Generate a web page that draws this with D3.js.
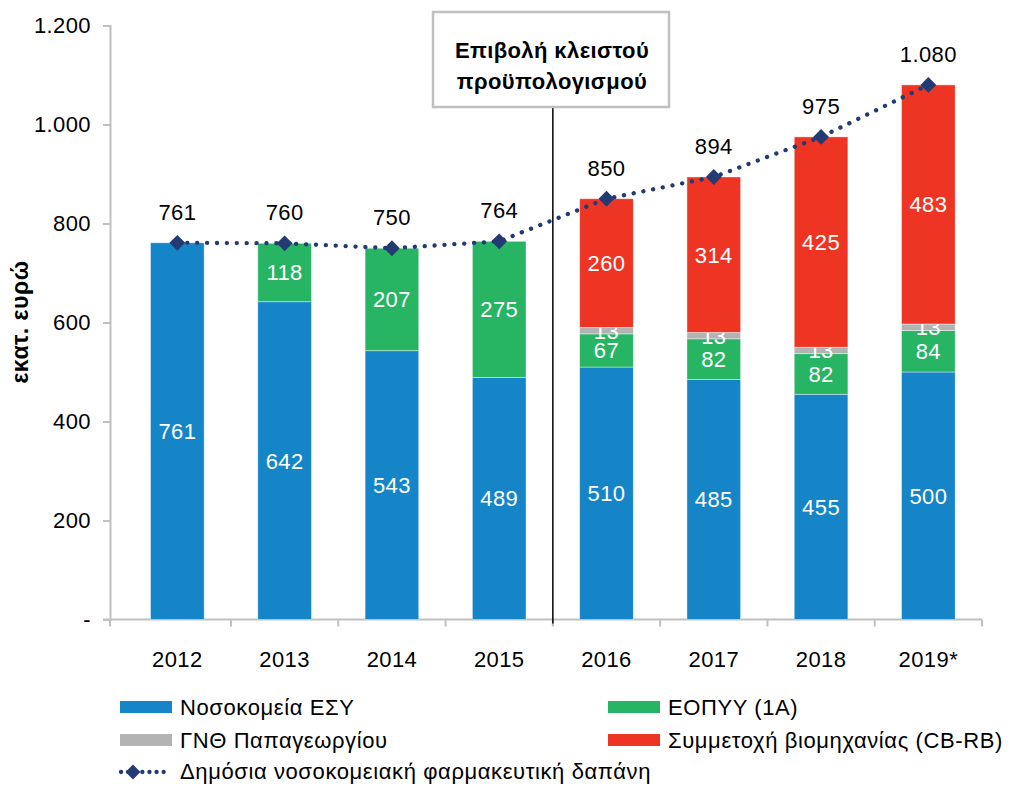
<!DOCTYPE html>
<html>
<head>
<meta charset="utf-8">
<script src="https://cdn.jsdelivr.net/npm/d3@7"></script>
<style>
body { margin: 0; background: #fff; }
text { font-family: "Liberation Sans", Arial, Helvetica, sans-serif; }
</style>
</head>
<body>
<script>
var Width = 1011;
var Height = 785;

var years = ["2012", "2013", "2014", "2015", "2016", "2017", "2018", "2019*"];
var hospitals = [761, 642, 543, 489, 510, 485, 455, 500];
var eopyy = [0, 118, 207, 275, 67, 82, 82, 84];
var papageorgiou = [0, 0, 0, 0, 13, 13, 13, 13];
var industry = [0, 0, 0, 0, 260, 314, 425, 483];
var totals = [761, 760, 750, 764, 850, 894, 975, 1080];
var yTicks = [0, 200, 400, 600, 800, 1000, 1200];

var seriesNames = ["Νοσοκομεία ΕΣΥ", "ΕΟΠΥΥ (1Α)", "ΓΝΘ Παπαγεωργίου", "Συμμετοχή βιομηχανίας (CB-RB)"];
var lineName = "Δημόσια νοσοκομειακή φαρμακευτική δαπάνη";
var colors = ["#1585c8", "#27b463", "#b3b3b3", "#ee3524"];
var navy = "#233a73";

var keys = ["h", "e", "p", "i"];
var rows = years.map(function (y, i) {
	return { year: y, h: hospitals[i], e: eopyy[i], p: papageorgiou[i], i: industry[i], total: totals[i] };
});

var svg = d3.select("body").append("svg")
	.attr("width", Width)
	.attr("height", Height);

var x = d3.scaleBand()
	.domain(years)
	.range([123.7, 982])
	.paddingInner(0.5)
	.paddingOuter(0.25);

var y = d3.scaleLinear()
	.domain([0, 1200])
	.range([619.5, 25.5]);

function fmt(v) {
	return v === 0 ? "-" : d3.format(",")(v).replace(/,/g, ".");
}

// y axis
var yAxis = svg.append("g")
	.attr("transform", "translate(110,0)")
	.call(d3.axisLeft(y).tickValues(yTicks).tickSize(7).tickPadding(12).tickFormat(fmt));
yAxis.select(".domain").attr("stroke", "#c0c0c0").attr("stroke-width", 2);
yAxis.selectAll(".tick line").attr("stroke", "#c0c0c0").attr("stroke-width", 2);
yAxis.selectAll("text").attr("font-size", 22).attr("letter-spacing", 0.4).attr("fill", "#000");

// x axis line + ticks between categories
var xg = svg.append("g");
xg.append("line")
	.attr("x1", 103).attr("x2", 982)
	.attr("y1", y(0)).attr("y2", y(0))
	.attr("stroke", "#c0c0c0").attr("stroke-width", 2);
var step = x.step();
var tickXs = d3.range(years.length + 1).map(function (k) { return 123.7 + k * step; });
xg.selectAll(".xt")
	.data(tickXs.slice(1))
	.enter().append("line")
	.attr("x1", function (d) { return d; }).attr("x2", function (d) { return d; })
	.attr("y1", y(0)).attr("y2", y(0) + 7)
	.attr("stroke", "#c0c0c0").attr("stroke-width", 2);
xg.append("line")
	.attr("x1", 110).attr("x2", 110)
	.attr("y1", y(0)).attr("y2", y(0) + 7)
	.attr("stroke", "#c0c0c0").attr("stroke-width", 2);
xg.selectAll(".xl")
	.data(years)
	.enter().append("text")
	.attr("x", function (d) { return x(d) + x.bandwidth() / 2; })
	.attr("y", 667)
	.attr("text-anchor", "middle")
	.attr("font-size", 22)
	.attr("letter-spacing", 0.4)
	.text(function (d) { return d; });

// y title
svg.append("text")
	.attr("transform", "translate(28,322) rotate(-90)")
	.attr("text-anchor", "middle")
	.attr("font-size", 23)
	.attr("letter-spacing", 0.5)
	.attr("font-weight", "bold")
	.text("εκατ. ευρώ");

// stacked bars
var stacked = d3.stack().keys(keys)(rows);

var layers = svg.append("g").selectAll("g")
	.data(stacked)
	.enter().append("g")
	.attr("fill", function (d, i) { return colors[i]; });

layers.selectAll("rect")
	.data(function (d) { return d.filter(function (s) { return s[1] - s[0] > 0; }); })
	.enter().append("rect")
	.attr("x", function (d) { return x(d.data.year); })
	.attr("y", function (d) { return y(d[1]); })
	.attr("width", x.bandwidth())
	.attr("height", function (d) { return y(d[0]) - y(d[1]); })
	.attr("stroke", "#ffffff")
	.attr("stroke-opacity", 0.5)
	.attr("stroke-width", 0.8);

layers.selectAll("text")
	.data(function (d) { return d.filter(function (s) { return s[1] - s[0] > 0; }); })
	.enter().append("text")
	.attr("x", function (d) { return x(d.data.year) + x.bandwidth() / 2; })
	.attr("y", function (d) { return y((d[0] + d[1]) / 2); })
	.attr("dy", "0.36em")
	.attr("text-anchor", "middle")
	.attr("font-size", 22)
	.attr("letter-spacing", 0.4)
	.attr("fill", "#fff")
	.text(function (d) { return d[1] - d[0]; });

// separator line and annotation box
svg.append("line")
	.attr("x1", tickXs[4]).attr("x2", tickXs[4])
	.attr("y1", 107).attr("y2", y(0) + 4)
	.attr("stroke", "#000").attr("stroke-width", 1.5);

svg.append("rect")
	.attr("x", 433).attr("y", 12)
	.attr("width", 236).attr("height", 95)
	.attr("fill", "#fff")
	.attr("stroke", "#c0c0c0")
	.attr("stroke-width", 2.5);
svg.append("text")
	.attr("x", 552).attr("y", 58)
	.attr("text-anchor", "middle")
	.attr("font-size", 22).attr("font-weight", "bold")
	.attr("letter-spacing", 0.4)
	.text("Επιβολή κλειστού");
svg.append("text")
	.attr("x", 552).attr("y", 89)
	.attr("text-anchor", "middle")
	.attr("font-size", 22).attr("font-weight", "bold")
	.attr("letter-spacing", 0.4)
	.text("προϋπολογισμού");

// total line
var line = d3.line()
	.x(function (d) { return x(d.year) + x.bandwidth() / 2; })
	.y(function (d) { return y(d.total); });

svg.append("path")
	.datum(rows)
	.attr("d", line)
	.attr("fill", "none")
	.attr("stroke", navy)
	.attr("stroke-width", 4.3)
	.attr("stroke-linecap", "round")
	.attr("stroke-dasharray", "0.1 9.8");

svg.selectAll(".dm")
	.data(rows)
	.enter().append("path")
	.attr("transform", function (d) {
		return "translate(" + (x(d.year) + x.bandwidth() / 2) + "," + y(d.total) + ") rotate(45)";
	})
	.attr("d", d3.symbol().type(d3.symbolSquare).size(125))
	.attr("fill", navy);

svg.selectAll(".tl")
	.data(rows)
	.enter().append("text")
	.attr("x", function (d) { return x(d.year) + x.bandwidth() / 2; })
	.attr("y", function (d) { return y(d.total) - 31; })
	.attr("dy", "0.36em")
	.attr("text-anchor", "middle")
	.attr("font-size", 22)
	.attr("letter-spacing", 0.4)
	.text(function (d) { return fmt(d.total); });

// legend
var legendItems = [
	{ name: seriesNames[0], color: colors[0], x: 120, y: 707 },
	{ name: seriesNames[1], color: colors[1], x: 608, y: 707 },
	{ name: seriesNames[2], color: colors[2], x: 120, y: 740 },
	{ name: seriesNames[3], color: colors[3], x: 608, y: 740 }
];
var lg = svg.append("g");
lg.selectAll("rect")
	.data(legendItems)
	.enter().append("rect")
	.attr("x", function (d) { return d.x; })
	.attr("y", function (d) { return d.y - 6; })
	.attr("width", 52).attr("height", 12)
	.attr("fill", function (d) { return d.color; });
lg.selectAll("text")
	.data(legendItems)
	.enter().append("text")
	.attr("x", function (d) { return d.x + 60; })
	.attr("y", function (d) { return d.y; })
	.attr("dy", "0.36em")
	.attr("font-size", 22)
	.attr("letter-spacing", 0.6)
	.text(function (d) { return d.name; });

lg.append("line")
	.attr("x1", 121).attr("x2", 170)
	.attr("y1", 772).attr("y2", 772)
	.attr("stroke", navy).attr("stroke-width", 4.3)
	.attr("stroke-linecap", "round")
	.attr("stroke-dasharray", "0.1 7");
lg.append("path")
	.attr("transform", "translate(133,772) rotate(45)")
	.attr("d", d3.symbol().type(d3.symbolSquare).size(110))
	.attr("fill", navy);
lg.append("text")
	.attr("x", 180).attr("y", 771)
	.attr("dy", "0.36em")
	.attr("font-size", 22)
	.attr("letter-spacing", 0.6)
	.text(lineName);
</script>
</body>
</html>
